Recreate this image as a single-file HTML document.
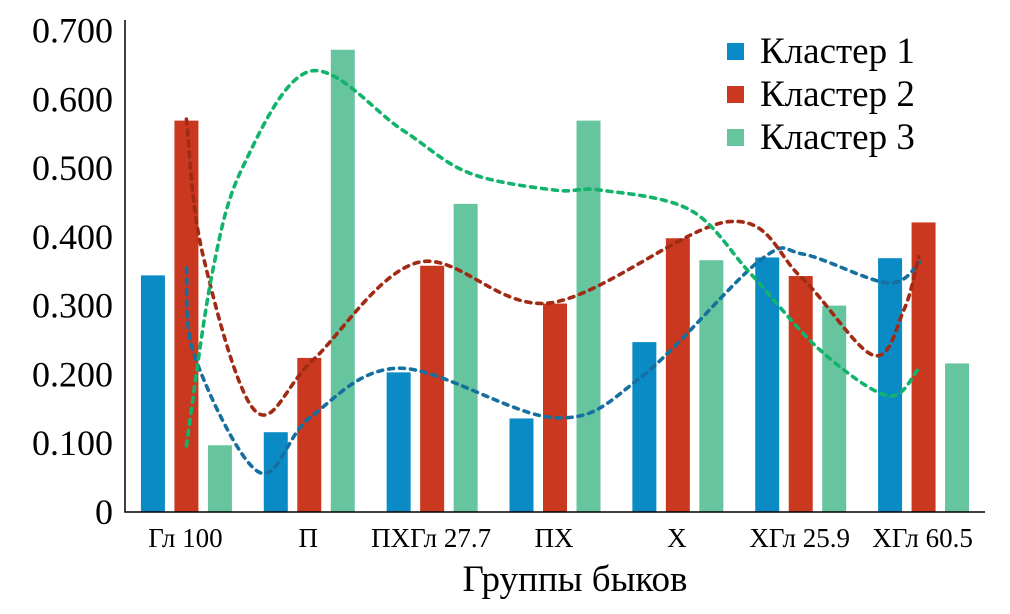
<!DOCTYPE html>
<html><head><meta charset="utf-8"><style>
body{margin:0;background:#fff}
svg{display:block;font-family:"Liberation Serif","DejaVu Serif",serif}
</style></head><body>
<svg id="c" width="1010" height="614"></svg>
<script>
const categories=["Гл 100","П","ПХГл 27.7","ПХ","Х","ХГл 25.9","ХГл 60.5"];
const cluster1=[0.344,0.116,0.203,0.136,0.247,0.370,0.369];
const cluster2=[0.569,0.224,0.358,0.303,0.398,0.343,0.421];
const cluster3=[0.097,0.672,0.448,0.569,0.366,0.300,0.216];
// trend curves: sample positions (fractional category index) and values
const trend1Pos=[0,0.07,0.59,1.01,1.74,3.0,3.7,4.67,5.02,5.71,5.97];
const trend1Val=[0.355,0.225,0.058,0.138,0.209,0.137,0.196,0.366,0.375,0.333,0.363];
const trend2Pos=[0,0.13,0.56,1.03,1.89,2.96,4.41,5.0,5.59,5.84,5.96];
const trend2Val=[0.571,0.377,0.147,0.221,0.363,0.304,0.422,0.342,0.228,0.294,0.371];
const trend3Pos=[0,0.21,0.46,1.01,1.76,2.3,3.0,3.37,4.1,4.59,5.16,5.71,5.95];
const trend3Val=[0.096,0.347,0.502,0.641,0.555,0.493,0.468,0.468,0.439,0.347,0.235,0.169,0.206];
const yTicks=[0,0.1,0.2,0.3,0.4,0.5,0.6,0.7];
const yTickLabels=["0","0.100","0.200","0.300","0.400","0.500","0.600","0.700"];
const seriesNames=["Кластер 1","Кластер 2","Кластер 3"];

const NS="http://www.w3.org/2000/svg";
const svg=document.getElementById('c');
const L=125,R=985,Y0=512,YT=30.5;
const y=v=>Y0-(v/0.7)*(Y0-YT);
const gw=(R-L)/categories.length;
const xc=i=>L+gw*(i+0.5);
function mk(t,a,p){const e=document.createElementNS(NS,t);for(const k in a)e.setAttribute(k,a[k]);(p||svg).appendChild(e);return e;}
const barCol=["#0b8bc5","#c9381f","#66c59e"];
const lineCol=["#1570a0","#a02a14","#12b36a"];
const series=[cluster1,cluster2,cluster3];
const trends=[[trend1Pos,trend1Val],[trend2Pos,trend2Val],[trend3Pos,trend3Val]];
const bw=24,off=[-33.5,0,33.5];
series.forEach((s,si)=>{s.forEach((v,i)=>{
 const b=mk('rect',{x:xc(i)+off[si]-bw/2,y:y(v),width:bw,height:Y0-y(v),fill:barCol[si]});
 
 
});});
function smoothPath(pts){let d="M"+pts[0][0].toFixed(1)+","+pts[0][1].toFixed(1);
 for(let i=0;i<pts.length-1;i++){const p0=pts[Math.max(0,i-1)],p1=pts[i],p2=pts[i+1],p3=pts[Math.min(pts.length-1,i+2)];
  const c1=[p1[0]+(p2[0]-p0[0])/6,p1[1]+(p2[1]-p0[1])/6],c2=[p2[0]-(p3[0]-p1[0])/6,p2[1]-(p3[1]-p1[1])/6];
  d+=`C${c1[0].toFixed(1)},${c1[1].toFixed(1)} ${c2[0].toFixed(1)},${c2[1].toFixed(1)} ${p2[0].toFixed(1)},${p2[1].toFixed(1)}`;}
 return d;}
trends.forEach((t,si)=>{
 const pts=t[0].map((p,i)=>[xc(p),y(t[1][i])]);
 const e=mk('path',{d:smoothPath(pts),fill:'none',stroke:lineCol[si],'stroke-width':3.6,'stroke-dasharray':'5,6','stroke-linecap':'round'});
 
 
});
const ax=mk('path',{d:`M${L},20V${Y0}H${R}`,fill:'none',stroke:'#000','stroke-width':1.5});


yTicks.forEach((v,i)=>{const t=mk('text',{x:113,y:y(v)+12,'text-anchor':'end','font-size':36});t.textContent=yTickLabels[i];
 
 });
categories.forEach((c,i)=>{const t=mk('text',{x:xc(i)-1,y:547,'text-anchor':'middle','font-size':27});t.textContent=c;
 
 });
const xt=mk('text',{x:575,y:591,'text-anchor':'middle','font-size':37});xt.textContent="Группы быков";


seriesNames.forEach((n,i)=>{const g=mk('g',{});
 
 
 mk('rect',{x:727,y:43+i*43,width:17,height:17,fill:barCol[i]},g);
 const t=mk('text',{x:760,y:63+i*43,'font-size':37},g);t.textContent=n;});
</script>
</body></html>
